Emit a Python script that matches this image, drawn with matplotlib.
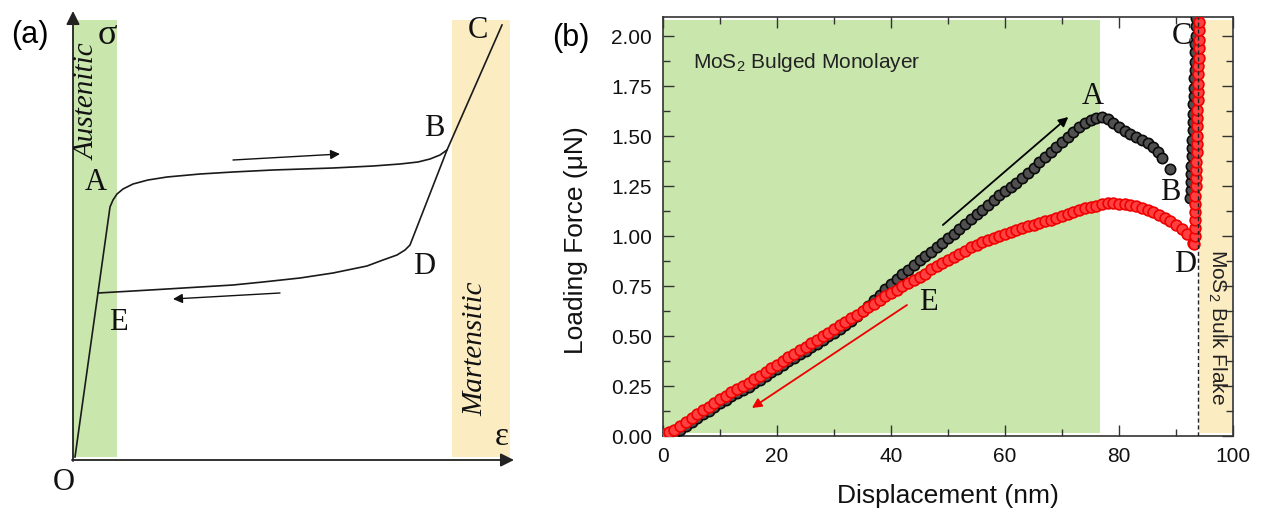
import matplotlib
matplotlib.use("Agg")
import matplotlib.pyplot as plt
from matplotlib.patches import Rectangle
from matplotlib.ticker import MultipleLocator, FormatStrFormatter

plt.rcParams['font.family'] = ['Liberation Sans', 'DejaVu Sans']
plt.rcParams['mathtext.fontset'] = 'custom'
plt.rcParams['mathtext.rm'] = 'Liberation Sans'
plt.rcParams['mathtext.it'] = 'Liberation Sans:italic'

# ---------------- Panel (a): schematic superelastic loop ----------------
# (strain, stress) in schematic units, origin at O
load_strain = [2, 37, 40, 44, 50, 60, 75, 94, 127, 160, 200, 260, 300, 327, 345, 357, 367, 374, 429]
load_stress = [3, 253, 260, 266, 271, 276, 280, 283, 286, 288, 290, 292, 294, 296, 298, 301, 305, 310, 435]
unload_strain = [374, 337, 332, 324, 310, 294, 260, 227, 190, 160, 127, 94, 60, 25]
unload_stress = [310, 215, 210, 205, 200, 194, 187, 182, 178, 175, 173, 171, 169, 167]
austenite_band = (0, 44)
martensite_band = (379, 437)
schem_labels = ["A", "B", "C", "D", "E", "O"]
schem_label_x = [23, 361, 405, 351, 45, -9]
schem_label_y = [277, 332, 429, 193, 138, -23]

# ---------------- Panel (b): nanoindentation data ----------------
black_disp = [1, 2, 3, 4, 5, 6, 7, 8, 9, 10, 11, 12, 13, 14, 15, 16, 17, 18, 19, 20, 21, 22,
              23, 24, 25, 26, 27, 28, 29, 30, 31, 32, 33, 34, 35, 36, 37, 38, 39, 40, 41, 42,
              43, 44, 45, 46, 47, 48, 49, 50, 51, 52, 53, 54, 55, 56, 57, 58, 59, 60, 61, 62,
              63, 64, 65, 66, 67, 68, 69, 70, 71, 72, 73, 74, 75, 76, 77,
              78, 79, 80, 81, 82, 83, 84, 85, 86, 86.8, 87.6, 89.0,
              92.5, 92.55, 92.6, 92.65, 92.7, 92.75, 92.8, 92.85, 92.9, 92.95, 93.0, 93.05,
              93.1, 93.15, 93.2, 93.25, 93.3, 93.35, 93.4, 93.45, 93.5, 93.55, 93.6]
black_force = [0.00, 0.01, 0.03, 0.05, 0.07, 0.09, 0.11, 0.125, 0.145, 0.165, 0.18, 0.20, 0.215, 0.23, 0.245, 0.265, 0.28, 0.30, 0.32, 0.335, 0.355, 0.375,
               0.39, 0.41, 0.425, 0.445, 0.46, 0.48, 0.50, 0.515, 0.535, 0.555, 0.575, 0.60, 0.625, 0.65, 0.68, 0.705, 0.735, 0.76, 0.785, 0.81,
               0.83, 0.855, 0.88, 0.90, 0.92, 0.945, 0.965, 0.99, 1.01, 1.035, 1.06, 1.085, 1.11, 1.13, 1.155, 1.18, 1.205, 1.225, 1.245, 1.265,
               1.29, 1.315, 1.34, 1.37, 1.395, 1.42, 1.445, 1.47, 1.495, 1.52, 1.545, 1.565, 1.58, 1.59, 1.595,
               1.585, 1.565, 1.545, 1.525, 1.51, 1.495, 1.48, 1.465, 1.445, 1.42, 1.39, 1.335,
               1.19, 1.23, 1.27, 1.31, 1.35, 1.40, 1.44, 1.48, 1.53, 1.57, 1.61, 1.66,
               1.70, 1.74, 1.79, 1.83, 1.87, 1.92, 1.96, 2.00, 2.05, 2.09, 2.13]
red_disp = [0, 1, 2, 3, 4, 5, 6, 7, 8, 9, 10, 11, 12, 13, 14, 15, 16, 17, 18, 19,
            20, 21, 22, 23, 24, 25, 26, 27, 28, 29, 30, 31, 32, 33, 34, 35, 36, 37, 38, 39,
            40, 41, 42, 43, 44, 45, 46, 47, 48, 49, 50, 51, 52, 53, 54, 55, 56, 57, 58, 59,
            60, 61, 62, 63, 64, 65, 66, 67, 68, 69, 70, 71, 72, 73, 74, 75, 76, 77, 78, 79,
            80, 81, 82, 83, 84, 85, 86, 87, 88, 89, 90, 91, 92, 93,
            93.2, 93.25, 93.3, 93.3, 93.35, 93.4, 93.4, 93.45, 93.5, 93.5, 93.55, 93.6, 93.6, 93.65,
            93.7, 93.7, 93.75, 93.8, 93.8, 93.85, 93.9, 93.9, 93.95, 94.0, 94.0, 94.05, 94.1, 94.1]
red_force = [0.01, 0.02, 0.03, 0.05, 0.07, 0.09, 0.11, 0.13, 0.145, 0.165, 0.185, 0.20, 0.22, 0.235, 0.25, 0.265, 0.285, 0.30, 0.32, 0.34,
             0.355, 0.375, 0.395, 0.41, 0.43, 0.445, 0.465, 0.48, 0.50, 0.515, 0.535, 0.555, 0.57, 0.59, 0.605, 0.625, 0.645, 0.66, 0.68, 0.70,
             0.715, 0.73, 0.75, 0.765, 0.78, 0.795, 0.81, 0.835, 0.85, 0.865, 0.88, 0.895, 0.91, 0.925, 0.945, 0.955, 0.97, 0.98, 0.99, 1.00,
             1.01, 1.02, 1.03, 1.04, 1.05, 1.055, 1.065, 1.075, 1.08, 1.09, 1.10, 1.11, 1.12, 1.13, 1.14, 1.145, 1.15, 1.16, 1.165, 1.165,
             1.16, 1.16, 1.155, 1.15, 1.14, 1.13, 1.12, 1.105, 1.09, 1.075, 1.055, 1.035, 1.01, 0.965,
             0.96, 1.00, 1.04, 1.08, 1.12, 1.16, 1.20, 1.25, 1.29, 1.33, 1.37, 1.42, 1.46, 1.50,
             1.55, 1.59, 1.63, 1.68, 1.72, 1.76, 1.81, 1.85, 1.89, 1.94, 1.98, 2.03, 2.07, 2.12]
monolayer_end = 76.7
bulk_start = 94.1
bulk_line = 93.9
x_ticks = [0, 20, 40, 60, 80, 100]
y_ticks = [0.00, 0.25, 0.50, 0.75, 1.00, 1.25, 1.50, 1.75, 2.00]
pt_labels = ["A", "B", "C", "D", "E"]
pt_label_x = [75.4, 89.0, 91.0, 91.6, 46.5]
pt_label_y = [1.70, 1.215, 2.00, 0.86, 0.67]

GREEN = '#c9e6ad'
BEIGE = '#fcecc2'
SERIF = ['Liberation Serif', 'DejaVu Serif']

fig = plt.figure(figsize=(12.66, 5.17), dpi=100)

# ---------- Panel (a) ----------
axa = fig.add_axes([0, 0, 530 / 1266, 1])
axa.set_xlim(-73, 457)
axa.set_ylim(-57, 460)
axa.axis('off')
axa.add_patch(Rectangle((austenite_band[0], 3), austenite_band[1] - austenite_band[0], 437,
                        color=GREEN, lw=0, zorder=0))
axa.add_patch(Rectangle((martensite_band[0], 3), martensite_band[1] - martensite_band[0], 437,
                        color=BEIGE, lw=0, zorder=0))
axa.annotate('', xy=(0, 449), xytext=(0, -1),
             arrowprops=dict(arrowstyle='-|>', lw=1.3, color='#222', mutation_scale=20, shrinkA=0, shrinkB=0))
axa.annotate('', xy=(441, 0), xytext=(-1, 0),
             arrowprops=dict(arrowstyle='-|>', lw=1.3, color='#222', mutation_scale=20, shrinkA=0, shrinkB=0))
axa.plot(load_strain, load_stress, color='#1a1a1a', lw=1.2, zorder=3)
axa.plot(unload_strain, unload_stress, color='#1a1a1a', lw=1.2, zorder=3)
axa.annotate('', xy=(267, 306), xytext=(160, 300),
             arrowprops=dict(arrowstyle='-|>', lw=1.0, color='#111', mutation_scale=14, shrinkA=0, shrinkB=0))
axa.annotate('', xy=(100, 161), xytext=(207, 167),
             arrowprops=dict(arrowstyle='-|>', lw=1.0, color='#111', mutation_scale=14, shrinkA=0, shrinkB=0))
for t, x, y in zip(schem_labels, schem_label_x, schem_label_y):
    axa.text(x, y, t, family=SERIF, fontsize=22, ha='center', va='center', color='#111')
axa.text(34, 424, 'σ', family=SERIF, fontsize=26, ha='center', va='center', color='#111')
axa.text(429, 23, 'ε', family=SERIF, fontsize=24, ha='center', va='center', color='#111')
axa.text(15, 358, 'Austenitic', family=SERIF, style='italic', fontsize=21, rotation=90,
         ha='center', va='center', color='#111')
axa.text(402, 111, 'Martensitic', family=SERIF, style='italic', fontsize=21, rotation=90,
         ha='center', va='center', color='#111')

fig.text(30 / 1266, 1 - 35 / 517, '(a)', fontsize=22, ha='center', va='center')
fig.text(571 / 1266, 1 - 38 / 517, '(b)', fontsize=22, ha='center', va='center')

# ---------- Panel (b) ----------
ax = fig.add_axes([663 / 1266, 81 / 517, 570 / 1266, 419 / 517])
ax.set_xlim(0, 100)
ax.set_ylim(0, 2.095)
ax.add_patch(Rectangle((0, 0.015), monolayer_end, 2.065, color=GREEN, lw=0, zorder=0))
ax.add_patch(Rectangle((bulk_start, 0.015), 99.8 - bulk_start, 2.065, color=BEIGE, lw=0, zorder=0))

ax.scatter(black_disp, black_force, s=55, facecolor='#505050', edgecolor='#0a0a0a', lw=1.2, zorder=3)
ax.scatter(red_disp, red_force, s=60, facecolor='#ff4040', edgecolor='#f00000', lw=1.2, zorder=4)
ax.axvline(bulk_line, color='#222', lw=1.0, ls=(0, (3, 2)), zorder=5)

ax.annotate('', xy=(71.1, 1.595), xytext=(49.1, 1.055),
            arrowprops=dict(arrowstyle='-|>', lw=1.3, color='black', mutation_scale=14, shrinkA=0, shrinkB=0), zorder=6)
ax.annotate('', xy=(15.6, 0.14), xytext=(42.8, 0.655),
            arrowprops=dict(arrowstyle='-|>', lw=1.3, color='#ee0000', mutation_scale=14, shrinkA=0, shrinkB=0), zorder=6)

for t, x, y in zip(pt_labels, pt_label_x, pt_label_y):
    ax.text(x, y, t, family=SERIF, fontsize=22, ha='center', va='center', color='#111', zorder=7)

ax.text(5.3, 1.84, 'MoS$_2$ Bulged Monolayer', fontsize=15, ha='left', va='baseline', color='#222')
ax.text(97.2, 0.545, 'MoS$_2$ Bulk Flake', fontsize=15, rotation=270, ha='center', va='center', color='#222')

ax.set_xticks(x_ticks)
ax.set_yticks(y_ticks)
ax.xaxis.set_minor_locator(MultipleLocator(10))
ax.yaxis.set_minor_locator(MultipleLocator(0.125))
ax.yaxis.set_major_formatter(FormatStrFormatter('%.2f'))
ax.tick_params(which='both', direction='in', top=True, right=True, width=1.0, colors='#333',
               labelcolor='#111', labelsize=15, pad=8)
ax.tick_params(which='major', length=8)
ax.tick_params(which='minor', length=5)
for sp in ax.spines.values():
    sp.set_linewidth(1.2)
    sp.set_color('#333')

ax.set_xlabel('Displacement (nm)', fontsize=19, color='#111')
ax.set_ylabel('Loading Force (μN)', fontsize=19, color='#111')
ax.xaxis.set_label_coords(0.5, -0.115)
ax.yaxis.set_label_coords(-0.132, 0.468)

fig.savefig('out.png', dpi=100)
